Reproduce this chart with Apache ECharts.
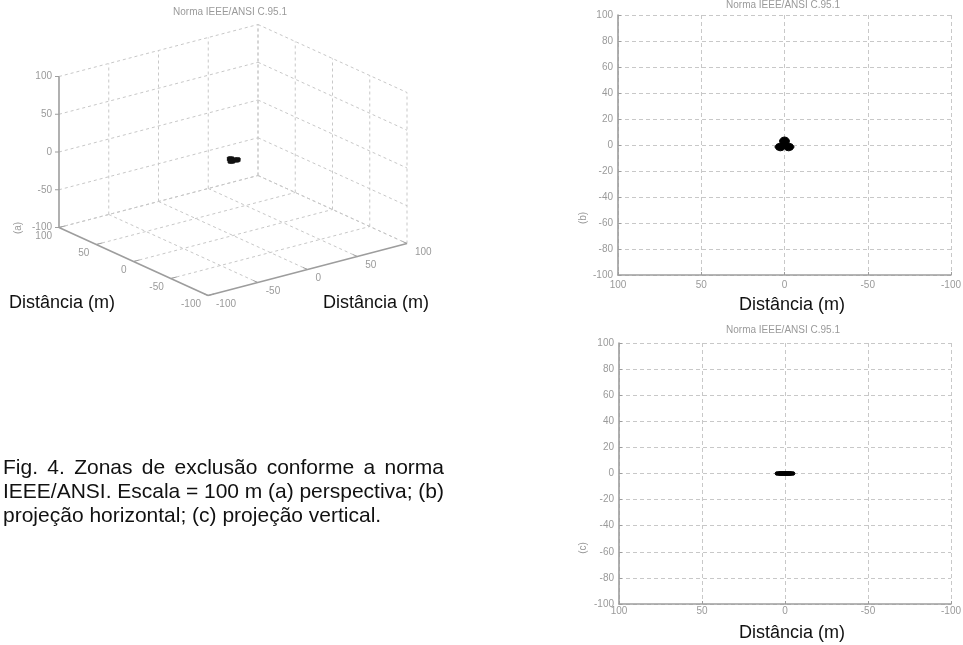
<!DOCTYPE html>
<html><head><meta charset="utf-8">
<script src="https://cdn.jsdelivr.net/npm/echarts@6/dist/echarts.min.js"></script>
<style>html,body{margin:0;padding:0;background:#fff}#c{width:963px;height:645px}</style>
</head><body><div id="c"></div>
<script>
// ---------- data ----------
const titleText = 'Norma IEEE/ANSI C.95.1';
const axisTitle = 'Distância (m)';
const ticks3D = [-100, -50, 0, 50, 100];
const tickLabels3D = ['-100', '-50', '0', '50', '100'];
// horizontal projection of the exclusion zone (m)
const zoneX = [0, 1.5, 2.6, 3.0, 2.6, 4.7, 5.8, 4.7, 2.6, 0.9, 0, -0.9, -2.6, -4.7, -5.8, -4.7, -2.6, -3.0, -2.6, -1.5];
const zoneY = [6.2, 5.7, 4.5, 3.0, 1.5, 0.6, -1.5, -3.6, -4.5, -4.0, -3.0, -4.0, -4.5, -3.6, -1.5, 0.6, 1.5, 3.0, 4.5, 5.7];
// vertical projection of the exclusion zone (m)
const profX = [-6, -5.5, -3, 0, 3, 5.5, 6, 5.5, 3, 0, -3, -5.5];
const profZ = [0, 1.2, 1.5, 1.5, 1.5, 1.2, 0, -1.2, -1.5, -1.5, -1.5, -1.2];
const captionLines = [
  'Fig. 4. Zonas de exclusão conforme a norma',
  'IEEE/ANSI. Escala = 100 m (a) perspectiva; (b)',
  'projeção horizontal; (c) projeção vertical.'
];
const panelTags = ['(a)', '(b)', '(c)'];

// ---------- style ----------
const FONT = '"Liberation Sans", Arial, sans-serif';
const TICKC = '#9a9a9a';
const GRIDC = '#c8c8c8';
const AXC = '#9d9d9d';

const chart = echarts.init(document.getElementById('c'), null, {renderer: 'canvas'});

// 3D orthographic projection (view similar to MATLAB default)
function proj(u, v, z) {
  return [-0.745 * u + 0.995 * v, 0.34 * u + 0.26 * v + 0.755 * z];
}

function render3D(params, api) {
  const P = (u, v, z) => api.coord(proj(u, v, z));
  const ch = [];
  const dashed = (a, b) => ch.push({type: 'line', shape: {x1: a[0], y1: a[1], x2: b[0], y2: b[1]},
    style: {stroke: GRIDC, lineWidth: 1, lineDash: [3, 3]}});
  const solid = (a, b) => ch.push({type: 'line', shape: {x1: a[0], y1: a[1], x2: b[0], y2: b[1]},
    style: {stroke: AXC, lineWidth: 1.6}});
  const lo = ticks3D[0], hi = ticks3D[ticks3D.length - 1];
  ticks3D.forEach(t => {
    // back-left wall (u = hi)
    if (t > lo) dashed(P(hi, t, lo), P(hi, t, hi));
    dashed(P(hi, lo, t), P(hi, hi, t));
    // back-right wall (v = hi)
    dashed(P(t, hi, lo), P(t, hi, hi));
    dashed(P(hi, hi, t), P(lo, hi, t));
    // floor (z = lo)
    if (t > lo) dashed(P(t, lo, lo), P(t, hi, lo));
    if (t > lo) dashed(P(hi, t, lo), P(lo, t, lo));
  });
  // solid axes
  solid(P(hi, lo, lo), P(hi, lo, hi));
  solid(P(hi, lo, lo), P(lo, lo, lo));
  solid(P(lo, lo, lo), P(lo, hi, lo));
  const txt = (p, s, align, dx, dy) => ch.push({type: 'text', x: p[0] + dx, y: p[1] + dy,
    style: {text: s, fill: TICKC, fontSize: 10, fontFamily: FONT, align: align, verticalAlign: 'middle'}});
  ticks3D.forEach((t, i) => {
    const pz = P(hi, lo, t);
    ch.push({type: 'line', shape: {x1: pz[0] - 4, y1: pz[1], x2: pz[0], y2: pz[1]}, style: {stroke: AXC, lineWidth: 1}});
    txt(pz, tickLabels3D[i], 'right', -7, 0);
    const pu = P(t, lo, lo), pu2 = P(t, lo + 6, lo);
    ch.push({type: 'line', shape: {x1: pu[0], y1: pu[1], x2: pu2[0], y2: pu2[1]}, style: {stroke: AXC, lineWidth: 1}});
    txt(pu, tickLabels3D[i], 'right', -7, 9);
    const pv = P(lo, t, lo), pv2 = P(lo + 6, t, lo);
    ch.push({type: 'line', shape: {x1: pv[0], y1: pv[1], x2: pv2[0], y2: pv2[1]}, style: {stroke: AXC, lineWidth: 1}});
    txt(pv, tickLabels3D[i], 'left', 8, 9);
  });
  // exclusion zone body
  [profZ[3], 0, profZ[9]].forEach(z => {
    ch.push({type: 'polygon', shape: {points: zoneX.map((x, i) => P(zoneY[i], x, z))},
      style: {fill: '#111', stroke: '#111', lineWidth: 0.8}});
  });
  return {type: 'group', children: ch};
}

function zonePoly(xs, ys) {
  return function (params, api) {
    return {type: 'polygon', shape: {points: xs.map((x, i) => api.coord([x, ys[i]]))},
      style: {fill: '#000', stroke: '#000', lineWidth: 1}};
  };
}

function xAx(grid) {
  return {gridIndex: grid, type: 'value', min: -100, max: 100, interval: 50, inverse: true,
    axisLine: {show: true, onZero: false, lineStyle: {color: AXC, width: 1.6}},
    axisTick: {show: true, inside: true, length: 3, lineStyle: {color: AXC}},
    axisLabel: {fontSize: 10, color: TICKC, fontFamily: FONT, margin: grid === 1 ? 5 : 2},
    splitLine: {show: true, lineStyle: {color: GRIDC, type: [4, 3], width: 1}}};
}
function yAx(grid) {
  return {gridIndex: grid, type: 'value', min: -100, max: 100, interval: 20,
    axisLine: {show: true, onZero: false, lineStyle: {color: AXC, width: 1.6}},
    axisTick: {show: true, inside: true, length: 3, lineStyle: {color: AXC}},
    axisLabel: {fontSize: 10, color: TICKC, fontFamily: FONT, margin: 5},
    splitLine: {show: true, lineStyle: {color: GRIDC, type: [4, 3], width: 1}}};
}

// caption (justified lines)
const mctx = document.createElement('canvas').getContext('2d');
const CAPSIZE = 21;
mctx.font = CAPSIZE + 'px ' + FONT;
const captionEls = [];
const capY = [468, 492, 516];
captionLines.forEach((line, li) => {
  const x0 = 3, x1 = 444;
  if (li < 2) {
    const words = line.split(' ');
    const ws = words.map(w => mctx.measureText(w).width);
    const tot = ws.reduce((a, b) => a + b, 0);
    const gap = (x1 - x0 - tot) / (words.length - 1);
    let x = x0;
    words.forEach((w, i) => {
      captionEls.push({type: 'text', x: x, y: capY[li], style: {text: w, fill: '#111', fontSize: CAPSIZE,
        fontFamily: FONT, align: 'left', verticalAlign: 'middle'}});
      x += ws[i] + gap;
    });
  } else {
    captionEls.push({type: 'text', x: x0, y: capY[li], style: {text: line, fill: '#111', fontSize: CAPSIZE,
      fontFamily: FONT, align: 'left', verticalAlign: 'middle'}});
  }
});

const small = (x, y, s, rot) => ({type: 'text', x: x, y: y, rotation: rot || 0,
  style: {text: s, fill: TICKC, fontSize: 10, fontFamily: FONT, align: 'center', verticalAlign: 'middle'}});
const big = (x, y, s) => ({type: 'text', x: x, y: y,
  style: {text: s, fill: '#111', fontSize: 18, fontFamily: FONT, align: 'center', verticalAlign: 'middle'}});

const option = {
  animation: false,
  backgroundColor: '#fff',
  grid: [
    {left: 58, top: 24, width: 350, height: 272, outerBoundsMode: 'none'},
    {left: 618, top: 15, width: 333, height: 260, outerBoundsMode: 'none'},
    {left: 619, top: 343, width: 332, height: 261, outerBoundsMode: 'none'}
  ],
  xAxis: [
    {gridIndex: 0, type: 'value', min: -175, max: 175, show: false},
    xAx(1), xAx(2)
  ],
  yAxis: [
    {gridIndex: 0, type: 'value', min: -136, max: 136, show: false},
    yAx(1), yAx(2)
  ],
  series: [
    {type: 'custom', xAxisIndex: 0, yAxisIndex: 0, data: [[0, 0]], renderItem: render3D, silent: true, clip: false},
    {type: 'custom', xAxisIndex: 1, yAxisIndex: 1, data: [[0, 0]], renderItem: zonePoly(zoneX, zoneY), silent: true},
    {type: 'custom', xAxisIndex: 2, yAxisIndex: 2, data: [[0, 0]], renderItem: zonePoly(profX, profZ), silent: true}
  ],
  graphic: [
    small(230, 12, titleText),
    small(783, 5, titleText),
    small(783, 330, titleText),
    small(18, 228, panelTags[0], Math.PI / 2),
    small(583, 218, panelTags[1], Math.PI / 2),
    small(583, 548, panelTags[2], Math.PI / 2),
    big(62, 303, axisTitle),
    big(376, 303, axisTitle),
    big(792, 305, axisTitle),
    big(792, 633, axisTitle)
  ].concat(captionEls)
};
chart.setOption(option);
</script></body></html>
